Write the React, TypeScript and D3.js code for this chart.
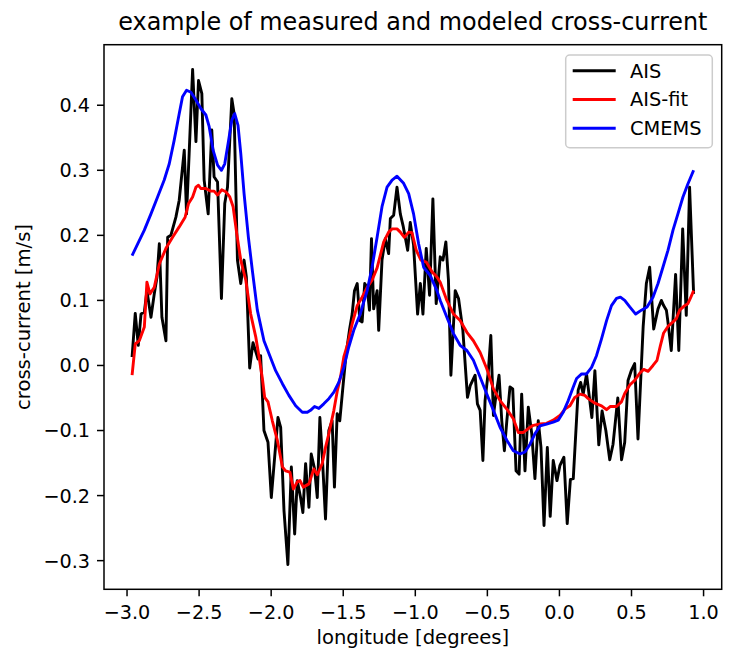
import * as d3 from "d3";

type Pt = [number, number]; // [longitude, cross-current]

const ais: Pt[] = [
  [-2.965, 0.013], [-2.943, 0.08], [-2.922, 0.031], [-2.903, 0.079], [-2.88, 0.082],
  [-2.862, 0.115], [-2.834, 0.074], [-2.811, 0.11], [-2.792, 0.136], [-2.776, 0.187],
  [-2.758, 0.074], [-2.73, 0.038], [-2.718, 0.197], [-2.696, 0.2], [-2.661, 0.228],
  [-2.638, 0.254], [-2.603, 0.331], [-2.587, 0.233], [-2.569, 0.326], [-2.545, 0.455],
  [-2.522, 0.344], [-2.504, 0.438], [-2.481, 0.418], [-2.465, 0.285], [-2.437, 0.233],
  [-2.412, 0.362], [-2.396, 0.29], [-2.372, 0.282], [-2.345, 0.103], [-2.322, 0.249],
  [-2.303, 0.274], [-2.273, 0.41], [-2.257, 0.387], [-2.234, 0.162], [-2.211, 0.126],
  [-2.188, 0.162], [-2.172, 0.136], [-2.149, -0.004], [-2.126, 0.035], [-2.091, 0.01],
  [-2.073, 0.015], [-2.05, -0.1], [-2.022, -0.118], [-1.999, -0.203], [-1.953, -0.08],
  [-1.934, -0.095], [-1.911, -0.223], [-1.884, -0.306], [-1.86, -0.156], [-1.837, -0.259],
  [-1.819, -0.177], [-1.796, -0.203], [-1.78, -0.226], [-1.761, -0.151], [-1.738, -0.218],
  [-1.722, -0.136], [-1.699, -0.159], [-1.68, -0.203], [-1.662, -0.08], [-1.646, -0.136],
  [-1.623, -0.236], [-1.6, -0.1], [-1.577, -0.085], [-1.561, -0.187], [-1.542, -0.074],
  [-1.524, -0.085], [-1.5, -0.028], [-1.48, 0.018], [-1.457, 0.054], [-1.438, 0.079],
  [-1.422, 0.115], [-1.403, 0.126], [-1.385, 0.069], [-1.369, 0.067], [-1.351, 0.126],
  [-1.334, 0.12], [-1.318, 0.085], [-1.304, 0.195], [-1.289, 0.087], [-1.265, 0.115],
  [-1.254, 0.054], [-1.231, 0.162], [-1.208, 0.195], [-1.185, 0.172], [-1.173, 0.226],
  [-1.15, 0.231], [-1.127, 0.274], [-1.104, 0.233], [-1.085, 0.215], [-1.053, 0.177],
  [-1.035, 0.22], [-1.012, 0.185], [-0.984, 0.079], [-0.965, 0.126], [-0.947, 0.079],
  [-0.924, 0.18], [-0.901, 0.108], [-0.878, 0.256], [-0.855, 0.095], [-0.827, 0.167],
  [-0.808, 0.162], [-0.788, 0.19], [-0.77, 0.131], [-0.753, -0.015], [-0.723, 0.115],
  [-0.7, 0.103], [-0.67, 0.054], [-0.638, -0.049], [-0.619, -0.031], [-0.585, -0.015],
  [-0.569, -0.059], [-0.55, -0.069], [-0.531, -0.146], [-0.516, -0.054], [-0.493, -0.008],
  [-0.476, 0.046], [-0.458, -0.077], [-0.439, -0.044], [-0.419, -0.015], [-0.4, -0.085],
  [-0.382, -0.131], [-0.365, -0.085], [-0.343, -0.033], [-0.324, -0.036], [-0.301, -0.162],
  [-0.28, -0.167], [-0.262, -0.044], [-0.239, -0.162], [-0.216, -0.064], [-0.192, -0.105],
  [-0.17, -0.174], [-0.147, -0.085], [-0.128, -0.126], [-0.107, -0.246], [-0.084, -0.126],
  [-0.064, -0.232], [-0.043, -0.146], [-0.017, -0.177], [0.003, -0.154], [0.031, -0.141],
  [0.054, -0.243], [0.076, -0.175], [0.096, -0.174], [0.13, -0.038], [0.147, -0.026],
  [0.165, -0.044], [0.188, -0.013], [0.225, -0.08], [0.246, -0.008], [0.273, -0.122],
  [0.296, -0.07], [0.322, -0.1], [0.349, -0.145], [0.372, -0.121], [0.405, -0.05],
  [0.431, -0.145], [0.453, -0.118], [0.476, -0.023], [0.5, -0.007], [0.522, 0.003],
  [0.545, -0.113], [0.581, 0.06], [0.603, 0.126], [0.626, 0.151], [0.654, 0.056],
  [0.684, 0.087], [0.707, 0.1], [0.723, 0.092], [0.742, 0.085], [0.751, 0.07],
  [0.776, 0.023], [0.806, 0.14], [0.828, 0.023], [0.855, 0.21], [0.88, 0.077],
  [0.903, 0.274], [0.931, 0.11],
];

const aisFit: Pt[] = [
  [-2.965, -0.015], [-2.943, 0.033], [-2.915, 0.038], [-2.88, 0.059], [-2.862, 0.128],
  [-2.841, 0.11], [-2.811, 0.12], [-2.776, 0.156], [-2.73, 0.18], [-2.684, 0.197],
  [-2.638, 0.213], [-2.597, 0.228], [-2.573, 0.249], [-2.545, 0.259], [-2.522, 0.274],
  [-2.504, 0.277], [-2.488, 0.272], [-2.453, 0.272], [-2.419, 0.268], [-2.396, 0.268],
  [-2.372, 0.262], [-2.343, 0.27], [-2.315, 0.267], [-2.287, 0.259], [-2.264, 0.244],
  [-2.239, 0.203], [-2.211, 0.162], [-2.176, 0.131], [-2.142, 0.079], [-2.107, 0.044],
  [-2.084, 0.013], [-2.061, -0.02], [-2.045, -0.049], [-2.022, -0.056], [-1.992, -0.085],
  [-1.957, -0.115], [-1.922, -0.156], [-1.9, -0.162], [-1.87, -0.164], [-1.846, -0.19],
  [-1.819, -0.179], [-1.8, -0.177], [-1.777, -0.187], [-1.738, -0.182], [-1.704, -0.159],
  [-1.68, -0.168], [-1.646, -0.151], [-1.623, -0.126], [-1.6, -0.105], [-1.565, -0.069],
  [-1.542, -0.04], [-1.519, -0.018], [-1.496, 0.013], [-1.469, 0.033], [-1.438, 0.064],
  [-1.403, 0.092], [-1.369, 0.105], [-1.334, 0.12], [-1.3, 0.131], [-1.265, 0.15],
  [-1.219, 0.19], [-1.185, 0.205], [-1.161, 0.21], [-1.127, 0.21], [-1.104, 0.205],
  [-1.076, 0.197], [-1.046, 0.205], [-1.023, 0.204], [-0.993, 0.177], [-0.961, 0.162],
  [-0.924, 0.159], [-0.884, 0.144], [-0.85, 0.136], [-0.827, 0.128], [-0.781, 0.1],
  [-0.735, 0.079], [-0.689, 0.069], [-0.642, 0.051], [-0.597, 0.038], [-0.55, 0.02],
  [-0.504, -0.005], [-0.458, -0.036], [-0.412, -0.054], [-0.365, -0.067], [-0.32, -0.082],
  [-0.285, -0.103], [-0.25, -0.103], [-0.216, -0.097], [-0.181, -0.092], [-0.135, -0.09],
  [-0.089, -0.089], [-0.043, -0.084], [0.003, -0.077], [0.038, -0.067], [0.073, -0.062],
  [0.107, -0.049], [0.142, -0.044], [0.176, -0.046], [0.2, -0.051], [0.246, -0.058],
  [0.292, -0.062], [0.327, -0.068], [0.354, -0.063], [0.396, -0.063], [0.43, -0.056],
  [0.453, -0.043], [0.488, -0.03], [0.522, -0.023], [0.557, -0.012], [0.585, -0.006],
  [0.615, -0.009], [0.649, 0.0], [0.677, 0.008], [0.7, 0.03], [0.723, 0.05],
  [0.753, 0.06], [0.788, 0.067], [0.811, 0.072], [0.834, 0.085], [0.869, 0.092],
  [0.891, 0.095], [0.908, 0.103], [0.931, 0.115],
];

const cmems: Pt[] = [
  [-2.965, 0.169], [-2.926, 0.187], [-2.88, 0.208], [-2.834, 0.233], [-2.788, 0.259],
  [-2.742, 0.285], [-2.707, 0.31], [-2.673, 0.346], [-2.638, 0.387], [-2.615, 0.413],
  [-2.587, 0.423], [-2.557, 0.42], [-2.522, 0.408], [-2.488, 0.395], [-2.453, 0.385],
  [-2.43, 0.367], [-2.403, 0.331], [-2.372, 0.308], [-2.345, 0.3], [-2.322, 0.31],
  [-2.299, 0.341], [-2.273, 0.377], [-2.253, 0.387], [-2.23, 0.369], [-2.211, 0.326],
  [-2.188, 0.264], [-2.158, 0.197], [-2.13, 0.145], [-2.096, 0.085], [-2.05, 0.038],
  [-1.992, 0.005], [-1.969, -0.008], [-1.922, -0.028], [-1.877, -0.046], [-1.83, -0.062],
  [-1.784, -0.072], [-1.749, -0.072], [-1.727, -0.069], [-1.699, -0.063], [-1.669, -0.066],
  [-1.635, -0.059], [-1.6, -0.051], [-1.565, -0.041], [-1.531, -0.026], [-1.496, -0.003],
  [-1.462, 0.028], [-1.427, 0.054], [-1.381, 0.08], [-1.334, 0.115], [-1.3, 0.151],
  [-1.265, 0.197], [-1.231, 0.244], [-1.196, 0.274], [-1.161, 0.285], [-1.127, 0.291],
  [-1.081, 0.28], [-1.046, 0.264], [-1.012, 0.233], [-0.977, 0.187], [-0.942, 0.151],
  [-0.896, 0.138], [-0.85, 0.115], [-0.827, 0.1], [-0.781, 0.074], [-0.735, 0.049],
  [-0.689, 0.031], [-0.642, 0.023], [-0.597, 0.008], [-0.55, -0.018], [-0.504, -0.044],
  [-0.458, -0.069], [-0.412, -0.095], [-0.365, -0.115], [-0.32, -0.131], [-0.273, -0.136],
  [-0.239, -0.133], [-0.204, -0.121], [-0.17, -0.105], [-0.135, -0.093], [-0.089, -0.09],
  [-0.043, -0.087], [-0.008, -0.084], [0.026, -0.072], [0.061, -0.054], [0.096, -0.033],
  [0.119, -0.02], [0.154, -0.013], [0.188, -0.013], [0.223, -0.003], [0.257, 0.015],
  [0.292, 0.041], [0.327, 0.069], [0.361, 0.092], [0.396, 0.103], [0.423, 0.105],
  [0.453, 0.1], [0.488, 0.09], [0.529, 0.079], [0.569, 0.085], [0.608, 0.09],
  [0.649, 0.105], [0.684, 0.126], [0.718, 0.151], [0.753, 0.177], [0.788, 0.208],
  [0.822, 0.233], [0.857, 0.259], [0.891, 0.279], [0.931, 0.3],
];

const xTicks = [-3.0, -2.5, -2.0, -1.5, -1.0, -0.5, 0.0, 0.5, 1.0];
const yTicks = [-0.3, -0.2, -0.1, 0.0, 0.1, 0.2, 0.3, 0.4];
const seriesNames = ["AIS", "AIS-fit", "CMEMS"];
const seriesColors = ["#000000", "#ff0000", "#0000ff"];

const W = 736;
const H = 664;
const M = { top: 44.7, right: 14.3, bottom: 74.7, left: 104 };
const FONT = "'DejaVu Sans', sans-serif";

// matplotlib-style 5% margins around the data
const padded = (lo: number, hi: number): [number, number] => {
  const r = hi - lo;
  return [lo - r * 0.05, hi + r * 0.05];
};

const App = () => {
  const series = [ais, aisFit, cmems];
  const all = series.flat();
  const [x0, x1] = d3.extent(all, (d) => d[0]) as [number, number];
  const [y0, y1] = d3.extent(all, (d) => d[1]) as [number, number];

  const x = d3.scaleLinear().domain(padded(x0, x1)).range([M.left, W - M.right]);
  const y = d3.scaleLinear().domain(padded(y0, y1)).range([H - M.bottom, M.top]);
  const line = d3.line<Pt>().x((d) => x(d[0])).y((d) => y(d[1]));
  const fmt = d3.format(".1f");

  const left = M.left;
  const right = W - M.right;
  const top = M.top;
  const bottom = H - M.bottom;
  const tickLen = 7;

  // legend box (upper right)
  const lgW = 146.6;
  const lgH = 92.7;
  const lgX = right - 9.4 - lgW;
  const lgY = top + 10.3;
  const rowGap = 28.8;

  return (
    <svg
      width={W}
      height={H}
      viewBox={`0 0 ${W} ${H}`}
      style={{ position: "absolute", left: 0, top: 0, background: "#fff" }}
      fontFamily={FONT}
    >
      <rect x={0} y={0} width={W} height={H} fill="#fff" />

      {series.map((s, i) => (
        <path
          key={seriesNames[i]}
          d={line(s) ?? ""}
          fill="none"
          stroke={seriesColors[i]}
          strokeWidth={2.9}
          strokeLinejoin="round"
        />
      ))}

      {/* spines */}
      <rect
        x={left}
        y={top}
        width={right - left}
        height={bottom - top}
        fill="none"
        stroke="#000"
        strokeWidth={1.5}
      />

      {xTicks.map((t) => (
        <g key={`x${t}`} transform={`translate(${x(t)},${bottom})`}>
          <line y2={tickLen} stroke="#000" strokeWidth={1.5} />
          <text y={tickLen + 23} textAnchor="middle" fontSize={19.2} fill="#000">
            {fmt(t)}
          </text>
        </g>
      ))}

      {yTicks.map((t) => (
        <g key={`y${t}`} transform={`translate(${left},${y(t)})`}>
          <line x2={-tickLen} stroke="#000" strokeWidth={1.5} />
          <text
            x={-tickLen - 7}
            dy="0.36em"
            textAnchor="end"
            fontSize={19.2}
            fill="#000"
          >
            {fmt(t)}
          </text>
        </g>
      ))}

      <text
        x={(left + right) / 2}
        y={644}
        textAnchor="middle"
        fontSize={19.6}
        fill="#000"
      >
        longitude [degrees]
      </text>
      <text
        transform={`translate(29.5,${(top + bottom) / 2}) rotate(-90)`}
        textAnchor="middle"
        fontSize={19.6}
        fill="#000"
      >
        cross-current [m/s]
      </text>
      <text
        x={(left + right) / 2}
        y={30}
        textAnchor="middle"
        fontSize={23.9}
        fill="#000"
      >
        example of measured and modeled cross-current
      </text>

      <g transform={`translate(${lgX},${lgY})`}>
        <rect
          width={lgW}
          height={lgH}
          rx={4}
          fill="#fff"
          fillOpacity={0.8}
          stroke="#cccccc"
          strokeWidth={1.5}
        />
        {seriesNames.map((name, i) => (
          <g key={name} transform={`translate(0,${15.7 + i * rowGap})`}>
            <line x1={7} x2={50} stroke={seriesColors[i]} strokeWidth={2.9} />
            <text x={64.3} dy="0.36em" fontSize={19.4} fill="#000">
              {name}
            </text>
          </g>
        ))}
      </g>
    </svg>
  );
};

export default App;
